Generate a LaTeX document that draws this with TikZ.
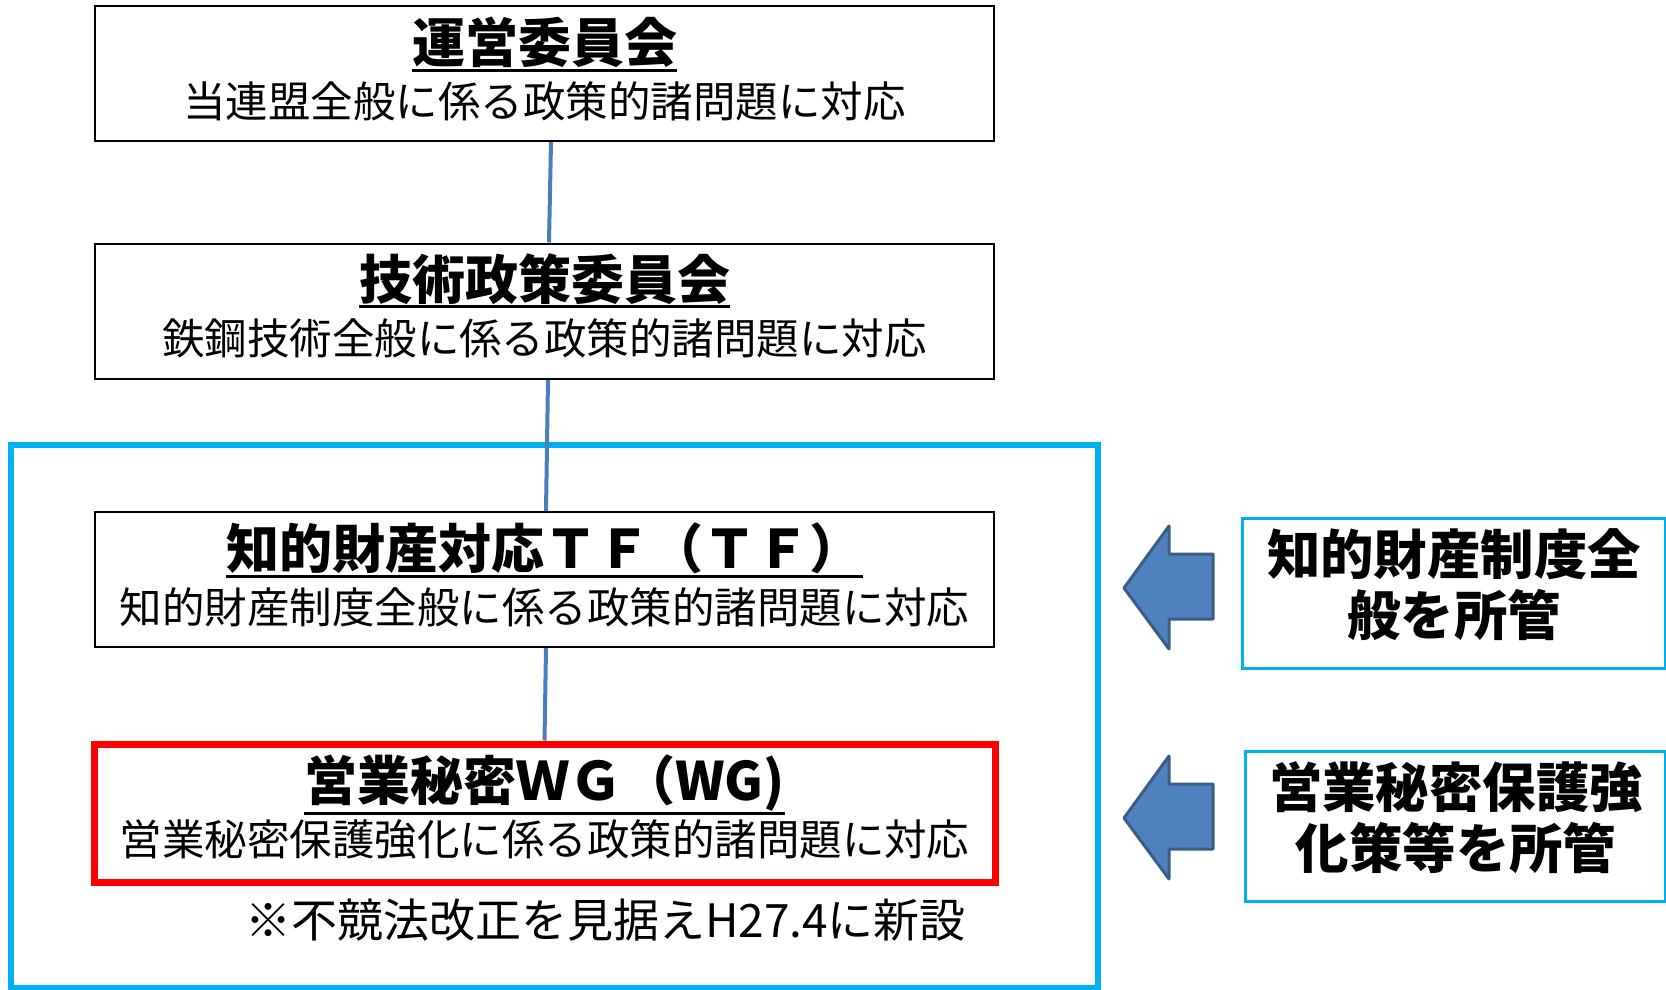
\documentclass[tikz,border=0pt]{standalone}
\usepackage{fontspec}
\newfontfamily\jp{Noto Sans CJK JP}
\usetikzlibrary{calc}
\definecolor{lineblue}{RGB}{74,126,187}
\definecolor{frameblue}{RGB}{0,176,240}
\definecolor{arrowfill}{RGB}{79,129,189}
\definecolor{arrowdraw}{RGB}{56,93,138}
\tikzset{
  box/.style={draw=black, line width=1pt, fill=white, minimum width=449.5pt, minimum height=67.5pt, inner sep=0pt},
  redbox/.style={draw=red, line width=3.5pt, fill=white, minimum width=450.5pt, minimum height=69pt, inner sep=0pt},
  title/.style={font=\jp\bfseries\fontsize{26.5pt}{30pt}\selectfont, inner sep=0pt},
  sub/.style={font=\jp\fontsize{21.25pt}{25pt}\selectfont, inner sep=0pt},
  note/.style={font=\jp\fontsize{23pt}{27pt}\selectfont, inner sep=0pt},
  link/.style={draw=lineblue, line width=2pt},
  ul/.style={draw=black, line width=1.5pt},
  frame/.style={draw=frameblue, line width=3pt},
  side/.style={draw=frameblue, line width=1.5pt, fill=white, inner sep=0pt, minimum height=75pt},
  sidetext/.style={align=center, inner sep=0pt,
    font=\jp\bfseries\fontsize{26.7pt}{30.5pt}\selectfont},
  blockarrow/.style={fill=arrowfill, draw=arrowdraw, line width=1.5pt, line join=round},
  leftarrow/.pic={
    \path[blockarrow] (0,0) -- (45,-62) -- (45,-34) -- (89,-34) -- (89,31) -- (45,31) -- (45,61) -- cycle;
  }
}
\begin{document}
\begin{tikzpicture}[x=0.5pt,y=-0.5pt]
\useasboundingbox (0,0) rectangle (1666,990);
% group frame
\draw[frame] (10.6,445) rectangle (1097.6,988);
% boxes
\node[box] (b1) at (544.5,73.5) {};
\node[box] (b2) at (544.5,311) {};
\node[box] (b3) at (544.5,579.5) {};
\node[redbox] (b4) at (544.5,813) {};
% connectors
\draw[link] ([xshift=3.25pt]b1.south) -- ([xshift=2.25pt]b2.north);
\draw[link] ([xshift=1.75pt]b2.south) -- ([xshift=0.75pt]b3.north);
\draw[link] ([xshift=0.75pt]b3.south) -- (b4.north);
% redraw box borders above connector ends
\node[box, fill=none] at (b1) {};
\node[box, fill=none] at (b2) {};
\node[box, fill=none] at (b3) {};
\node[redbox, fill=none] at (b4) {};
% texts
\node[title] (t1) at (544.5,42.5) {運営委員会};
\node[sub] (s1) at (544.5,101) {当連盟全般に係る政策的諸問題に対応};
\node[title] (t2) at (544.5,279) {技術政策委員会};
\node[sub] (s2) at (544.5,338) {鉄鋼技術全般に係る政策的諸問題に対応};
\node[title] (t3) at (544.5,548) {知的財産対応ＴＦ（ＴＦ）};
\node[sub] (s3) at (544.5,607) {知的財産制度全般に係る政策的諸問題に対応};
\node[title] (t4) at (544.5,783) {営業秘密ＷＧ（WG)};
\node[sub] (s4) at (544.5,839) {営業秘密保護強化に係る政策的諸問題に対応};
\foreach \t in {t1,t2,t3,t4}{
  \draw[ul] ([yshift=-1pt]\t.south west) -- ([yshift=-1pt]\t.south east);
}
\node[note] (n1) at (605.5,920) {※不競法改正を見据えH27.4に新設};
% side arrows and boxes
\pic at (1124,588) {leftarrow};
\pic at (1124,818) {leftarrow};
\node[side, minimum width=211.5pt] (r1) at (1453.5,593) {};
\node[sidetext] (r1t) at (1454,585) {知的財産制度全\\般を所管};
\node[side, minimum width=210pt] (r2) at (1455,826) {};
\node[sidetext] (r2t) at (1456,818) {営業秘密保護強\\化策等を所管};
\end{tikzpicture}
\end{document}
